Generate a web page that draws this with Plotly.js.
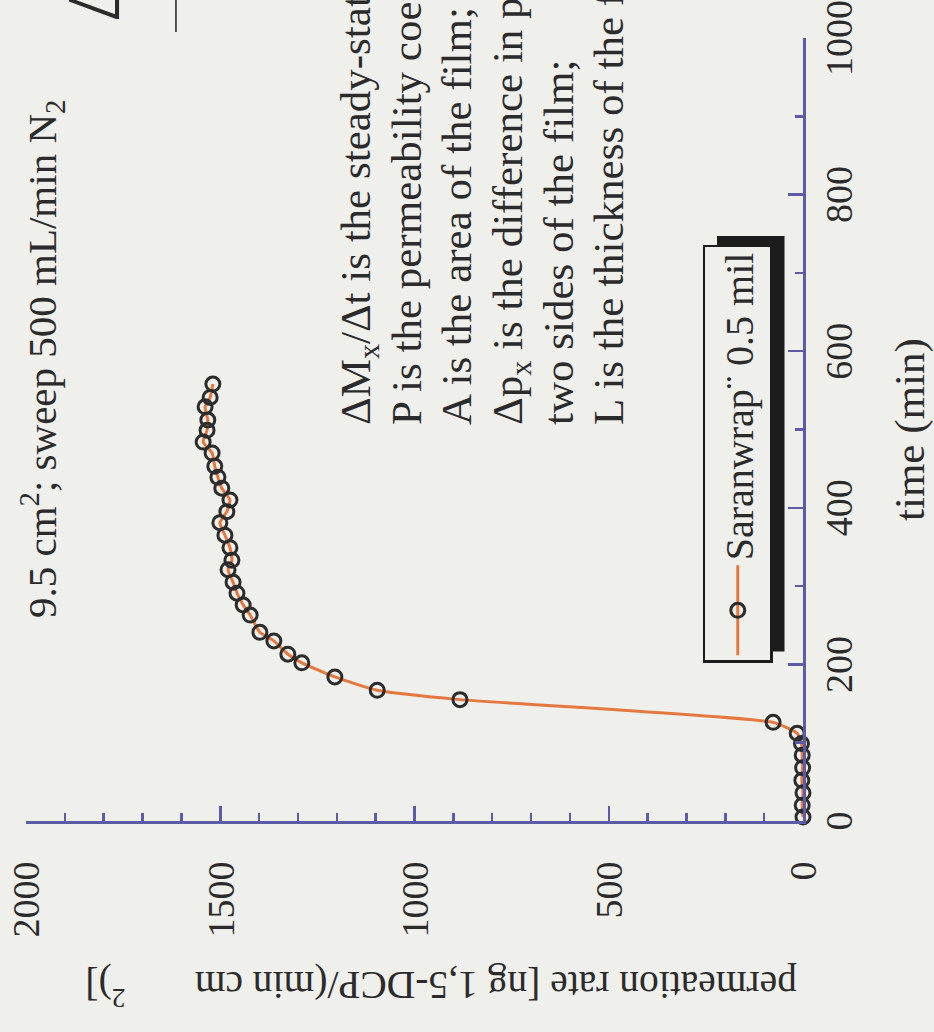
<!DOCTYPE html>
<html>
<head>
<meta charset="utf-8">
<script src="https://cdn.plot.ly/plotly-3.0.1.min.js"></script>
<style>
  html, body { margin: 0; padding: 0; width: 934px; height: 1032px; overflow: hidden; background: #efefec; }
  /* the figure is laid out landscape and turned a quarter turn counter-clockwise */
  #chart { position: absolute; left: 0; top: 0; width: 1400px; height: 1057px;
           transform-origin: 0 0; transform: translate(-54px, 1071px) rotate(-90deg); }
</style>
</head>
<body>
<div id="chart"></div>
<script>
// Permeation of 1,5-DCP through Saranwrap film: elapsed time vs permeation rate
const timeMin = [5, 20, 36, 52, 68, 84, 99, 112, 126, 155, 167, 184, 202, 213, 230, 241,
                 263, 276, 291, 305, 321, 333, 349, 365, 381, 395, 410, 425, 439, 453,
                 470, 484, 499, 512, 529, 541, 558];
const permRate = [0, 2, 0, 3, 1, 2, 4, 15, 77, 883, 1096, 1205, 1290, 1326, 1362, 1398,
                  1423, 1441, 1457, 1467, 1480, 1470, 1475, 1488, 1501, 1483, 1475, 1496, 1506, 1514,
                  1521, 1544, 1534, 1532, 1539, 1526, 1519];

const seriesName = 'Saranwrap\u00a8 0.5 mil';
const timeTicks = [0, 200, 400, 600, 800, 1000];
const rateTicks = [0, 500, 1000, 1500, 2000];

const headerText = '9.5 cm<sup>2</sup>; sweep 500 mL/min N<sub>2</sub>';
const noteLines = [
  '\u0394M<sub>x</sub>/\u0394t is the steady-state permeation rate;',
  'P is the permeability coefficient;',
  'A is the area of the film;',
  '\u0394p<sub>x</sub> is the difference in partial pressure between the',
  'two sides of the film;',
  'L is the thickness of the film.'
];
const eqNumerator = '\u0394M<sub>x</sub>';
const xTitle = 'time (min)';
const yTitle = 'permeation rate [ng 1,5-DCP/(min cm\u00a0\u00a0\u00a0\u00a0\u00a0\u00a0\u00a0<sup>2</sup>)]';

const SERIF = 'Liberation Serif';
const INK = '#2b2b2b';
const AXIS = '#5b5ba6';
const PAPER = '#efefec';

const axisStyle = {
  showline: true, linecolor: AXIS, linewidth: 3,
  ticks: 'inside', ticklen: 15, tickwidth: 2.5, tickcolor: AXIS,
  showgrid: false, zeroline: false,
  tickfont: { family: SERIF, size: 38, color: INK },
  minor: { ticks: 'inside', ticklen: 8, tickwidth: 2.5, tickcolor: AXIS, dtick: 100, showgrid: false }
};

const notes = noteLines.map((t, i) => ({
  text: t, xref: 'x', yref: 'y', x: 503, y: 1217 - i * 130.2,
  xanchor: 'left', yanchor: 'top', align: 'left', showarrow: false,
  font: { family: SERIF, size: 43, color: INK }
}));

const layout = {
  width: 1400, height: 1057,
  margin: { l: 250, r: 367, t: 80, b: 200 },
  paper_bgcolor: PAPER, plot_bgcolor: PAPER,
  showlegend: true,
  xaxis: Object.assign({}, axisStyle, { range: [0, 1000], tickvals: timeTicks, ticklabelstandoff: 0 }),
  yaxis: Object.assign({}, axisStyle, { range: [0, 2000], tickvals: rateTicks, ticklabelstandoff: 30 }),
  legend: {
    x: 0.202, xanchor: 'left', y: 0.129, yanchor: 'top',
    bgcolor: PAPER, bordercolor: '#1c1c1c', borderwidth: 2.5,
    font: { family: SERIF, size: 40, color: INK }, itemwidth: 90
  },
  shapes: [
    // fraction bar of the rate equation, right of the plot
    { type: 'line', xref: 'paper', yref: 'paper', x0: 1.0077, x1: 1.2, y0: 0.807, y1: 0.807,
      line: { color: INK, width: 1.6 } }
  ],
  annotations: [
    { text: headerText, xref: 'x', yref: 'y', x: 257, y: 1959, xanchor: 'left', yanchor: 'middle',
      showarrow: false, font: { family: SERIF, size: 41, color: INK } },
    { text: eqNumerator, xref: 'paper', yref: 'paper', x: 1.0185, y: 0.9704, xanchor: 'left', yanchor: 'top',
      showarrow: false, font: { family: SERIF, size: 76, color: INK } },
    { text: xTitle, xref: 'paper', yref: 'paper', x: 0.5, y: -0.1378, xanchor: 'center', yanchor: 'middle',
      showarrow: false, font: { family: SERIF, size: 43, color: INK } },
    { text: yTitle, xref: 'paper', yref: 'paper', x: -0.2133, y: 0.466, xanchor: 'center', yanchor: 'middle',
      textangle: -90, showarrow: false, font: { family: SERIF, size: 39.5, color: INK } }
  ].concat(notes)
};

const trace = {
  x: timeMin, y: permRate, name: seriesName, type: 'scatter', mode: 'lines+markers',
  line: { color: '#e5783f', width: 3, shape: 'spline', smoothing: 0.5 },
  marker: { symbol: 'circle-open', size: 14, color: '#2c2c2c', line: { width: 3 } },
  cliponaxis: false
};

const gd = document.getElementById('chart');
Plotly.newPlot(gd, [trace], layout, { staticPlot: true }).then(() => {
  // drop shadow behind the legend box, offset down and to the right
  const s = gd._fullLayout._size;
  const lg = gd.querySelector('g.legend');
  const bg = lg && lg.querySelector('rect.bg');
  if (!bg) return;
  const m = /translate\(\s*([-\d.e]+)[\s,]+([-\d.e]+)\s*\)/.exec(lg.getAttribute('transform'));
  const lx = +m[1], ly = +m[2];
  const bx = +(bg.getAttribute('x') || 0), by = +(bg.getAttribute('y') || 0);
  const w = +bg.getAttribute('width'), h = +bg.getAttribute('height');
  const dx = 10, dy = 13;
  const px = v => (v - s.l) / s.w;
  const py = v => 1 - (v - s.t) / s.h;
  const shapes = gd.layout.shapes.concat([{
    type: 'rect', xref: 'paper', yref: 'paper', layer: 'above',
    x0: px(lx + bx + dx), x1: px(lx + bx + w + dx),
    y0: py(ly + by + h + dy), y1: py(ly + by + dy),
    fillcolor: '#1c1c1c', line: { width: 0 }
  }]);
  return Plotly.relayout(gd, { shapes: shapes });
});
</script>
</body>
</html>
